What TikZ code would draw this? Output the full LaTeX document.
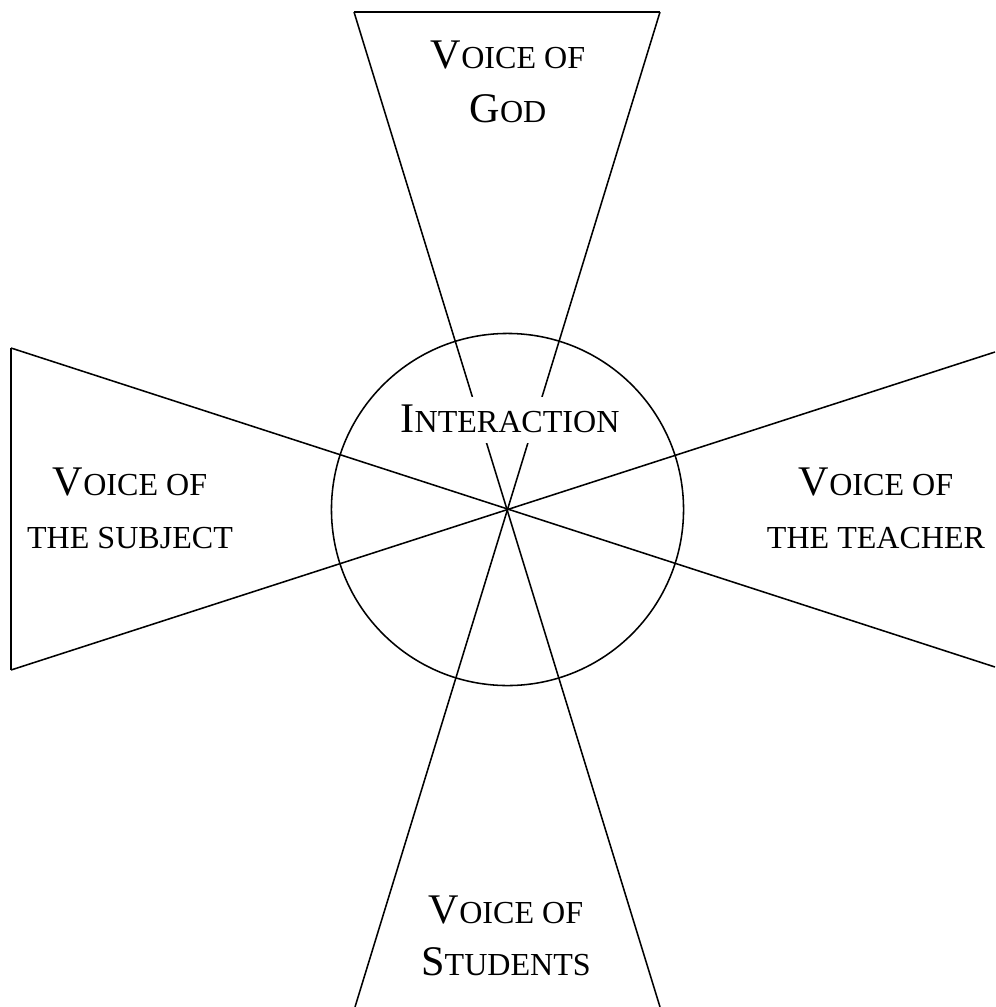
\documentclass[tikz,border=0pt]{standalone}
\usepackage{fontspec}
\setmainfont{Liberation Serif}
\usetikzlibrary{positioning}
\newcommand{\capbig}[1]{{\fontsize{30pt}{36pt}\selectfont #1}}

\begin{document}
\begin{tikzpicture}[
    x=0.025cm, y=-0.025cm, line width=1.1pt,
    voice/.style={font=\fontsize{22.8pt}{27pt}\selectfont, inner sep=0pt, anchor=base}
]
\useasboundingbox (0,0) rectangle (995,1007);
\clip (0,0) rectangle (995,1007);
% centre and the outer corners of the four wedges
\coordinate (c) at (507.5,509.5);
\coordinate (godL) at (354,12);
\coordinate (godR) at (660,12);
\coordinate (stuL) at (355,1007);
\coordinate (stuR) at (660,1007);
\coordinate (subT) at (11,348);
\coordinate (subB) at (11,670);
\coordinate (teaT) at (995,352);
\coordinate (teaB) at (995,667);
\draw (godL) -- (godR);
\draw (godL) -- (stuR);
\draw (godR) -- (stuL);
\draw (subT) -- (subB);
\draw (subT) -- (teaB);
\draw (subB) -- (teaT);
\node[circle, draw, inner sep=0pt, minimum size=8.8cm] (ring) at (c) {};
\node[voice, fill=white, inner xsep=4pt, text height=25pt, text depth=8pt] (inter) at (510,432) {\capbig{I}NTERACTION};
% labels
\node[voice] (god1) at (508,68) {\capbig{V}OICE OF};
\node[voice, below=1.35cm of god1.base, anchor=base] (god2) {\capbig{G}OD};
\node[voice] (sub1) at (130,495) {\capbig{V}OICE OF};
\node[voice, below=1.325cm of sub1.base, anchor=base] (sub2) {THE SUBJECT};
\node[voice] (tea1) at (876,495) {\capbig{V}OICE OF};
\node[voice, below=1.325cm of tea1.base, anchor=base] (tea2) {THE TEACHER};
\node[voice] (stu1) at (506,923) {\capbig{V}OICE OF};
\node[voice, below=1.3cm of stu1.base, anchor=base] (stu2) {\capbig{S}TUDENTS};
\end{tikzpicture}
\end{document}
